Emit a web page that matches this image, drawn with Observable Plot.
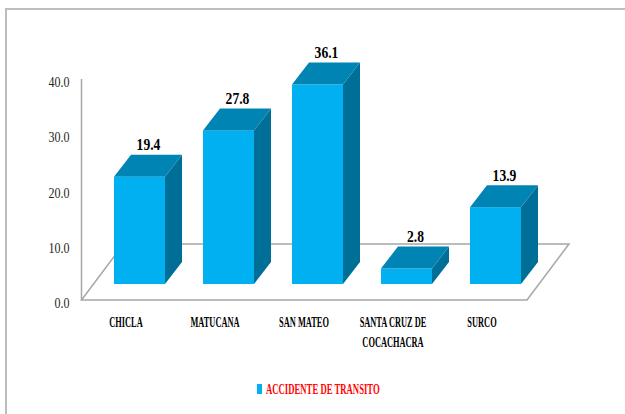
<!DOCTYPE html>
<html><head><meta charset="utf-8">
<script src="https://cdn.jsdelivr.net/npm/d3@7"></script>
<script src="https://cdn.jsdelivr.net/npm/@observablehq/plot@0.6"></script>
<style>
body{margin:0;width:625px;height:414px;overflow:hidden;background:#fff;position:relative;font-family:"Liberation Serif",serif}
#frameL{position:absolute;left:5px;top:8px;width:2px;height:420px;background:#bdbdbd}
#frameT{position:absolute;left:5px;top:8px;width:630px;height:2px;background:#bdbdbd}
#chart{position:absolute;left:0;top:0}
#legend{position:absolute;left:0;top:0;width:625px;height:414px;pointer-events:none}
#legend .key{position:absolute;left:257px;top:384px;width:5px;height:10px;background:#00b0f0}
#legend .lab{position:absolute;left:266px;top:380px;line-height:18px;font-size:15px;font-weight:bold;color:#ff0000;white-space:nowrap;transform:scaleX(0.58);transform-origin:left center;font-family:"Liberation Serif",serif}
svg text{font-family:"Liberation Serif",serif}
</style></head><body>
<div id="frameL"></div><div id="frameT"></div>
<div id="chart"></div>
<div id="legend"><span class="key"></span><span class="lab" id="legendLabel"></span></div>
<script>
// ---- data ----
const categories = ["CHICLA", "MATUCANA", "SAN MATEO", "SANTA CRUZ DE\nCOCACHACRA", "SURCO"];
const values = [19.4, 27.8, 36.1, 2.8, 13.9];
const yTicks = [0, 10, 20, 30, 40];
const seriesName = "ACCIDENTE DE TRANSITO";

// ---- style ----
const FRONT = "#00b0f0", TOP = "#0084b4", SIDE = "#006f98", GRID = "#a6a6a6";
const DX = 17, DY = -22, LIFT = -19;
const FONT = "Liberation Serif";

const data = categories.map((c, i) => ({cat: c, value: values[i]}));
document.getElementById("legendLabel").textContent = seriesName;

function floorMark(index, scales) {
  const x = scales.x, y = scales.y;
  const bw = x.bandwidth();
  const y0 = y(0);
  const fl = x(categories[0]) - 32.5;
  const fr = x(categories[categories.length - 1]) + bw + 6;
  const yf = y0 - 3, yb = y0 - 59, bdx = 42;
  const g = d3.create("svg:g");
  g.append("path")
    .attr("d", `M${fl},${yf}L${fr},${yf}L${fr + bdx},${yb}L${fl + bdx},${yb}Z`)
    .attr("fill", "#fff").attr("stroke", GRID).attr("stroke-width", 1.5);
  g.append("line")
    .attr("x1", fl).attr("x2", fl).attr("y1", yf).attr("y2", y(40) - 3)
    .attr("stroke", GRID).attr("stroke-width", 1.5);
  return g.node();
}

function facesMark(index, scales) {
  const x = scales.x, y = scales.y;
  const bw = x.bandwidth();
  const g = d3.create("svg:g");
  data.forEach(d => {
    const xl = x(d.cat), xr = xl + bw;
    const yt = y(d.value) + LIFT, yb = y(0) + LIFT;
    g.append("path")
      .attr("d", `M${xr},${yt}L${xr + DX},${yt + DY}L${xr + DX},${yb + DY}L${xr},${yb}Z`)
      .attr("fill", SIDE);
    g.append("path")
      .attr("d", `M${xl},${yt}L${xr},${yt}L${xr + DX},${yt + DY}L${xl + DX},${yt + DY}Z`)
      .attr("fill", TOP);
  });
  return g.node();
}

const chart = Plot.plot({
  width: 625,
  height: 370,
  marginLeft: 70,
  marginBottom: 57,
  style: {background: "transparent", fontFamily: FONT, overflow: "visible"},
  x: {type: "band", domain: categories, range: [112.5, 522], paddingInner: 0.43, paddingOuter: 0, axis: null},
  y: {domain: [0, 40], range: [303, 82], axis: null},
  marks: [
    floorMark,
    Plot.barY(data, {x: "cat", y: "value", fill: FRONT, dy: LIFT}),
    facesMark,
    Plot.text(yTicks, {y: d => d, text: d => d.toFixed(1), frameAnchor: "left", textAnchor: "end", dx: -1,
      fontSize: 14.5, fontFamily: FONT, fill: "#262626"}),
    Plot.text(data, {x: "cat", text: "cat", frameAnchor: "bottom", lineAnchor: "top", dx: -14,
      fontSize: 15.5, fontWeight: "bold", fontFamily: FONT, lineHeight: 1.25, fill: "#000"}),
    Plot.text(data, {x: "cat", y: "value", text: d => d.value.toFixed(1), dx: DX / 2, dy: LIFT + DY - 10,
      fontSize: 16, fontWeight: "bold", fontFamily: FONT, fill: "#000"})
  ]
});
document.getElementById("chart").appendChild(chart);

// horizontally condense the text like the original narrow font
const scalesX = [0.83, 0.54, 0.85];
chart.querySelectorAll('g[aria-label="text"]').forEach((grp, gi) => {
  const s = scalesX[gi] ?? 1;
  grp.querySelectorAll("text").forEach(t => {
    const tr = t.getAttribute("transform") || "";
    t.setAttribute("transform", `${tr} scale(${s},1)`);
  });
});
</script>
</body></html>
